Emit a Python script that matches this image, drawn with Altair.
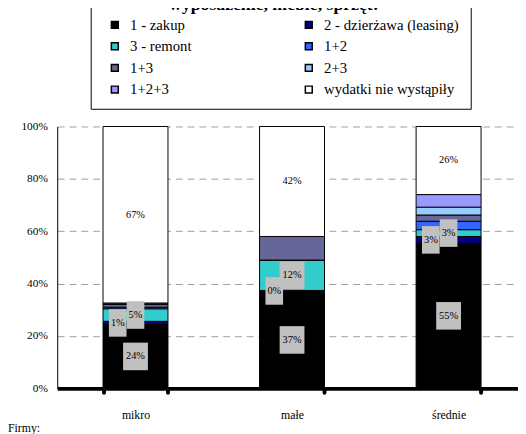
import altair as alt
import pandas as pd

# ---- data ----
categories = ["mikro", "małe", "średnie"]
series = ["1 - zakup", "2 - dzierżawa (leasing)", "3 - remont", "1+2", "1+3",
          "2+3", "1+2+3", "wydatki nie wystąpiły"]
colors = ["#000000", "#000080", "#33CCCC", "#3366FF", "#666699",
          "#99CCFF", "#9999FF", "#FFFFFF"]
zakup = [24.4, 37.0, 55.4]
dzierzawa = [1.2, 0.4, 2.6]
remont = [4.8, 11.6, 2.6]
s12 = [0.6, 0.0, 3.2]
s13 = [1.2, 9.0, 2.4]
s23 = [0.0, 0.0, 3.0]
s123 = [0.4, 0.0, 4.8]
brak = [67.4, 42.0, 26.0]
values = [zakup, dzierzawa, remont, s12, s13, s23, s123, brak]
y_ticks = [0, 20, 40, 60, 80, 100]
title_text = "wyposażenie, meble, sprzęt:"
footer_text = "Firmy:"

rows = []
for si, (name, vals) in enumerate(zip(series, values)):
    for ci, cat in enumerate(categories):
        rows.append(dict(firma=cat, seria=name, ord=si, val=vals[ci]))
df = pd.DataFrame(rows)
df["cat_i"] = df["firma"].map({c: i for i, c in enumerate(categories)})
df = df.sort_values(["cat_i", "ord"]).reset_index(drop=True)
df["y1"] = df.groupby("firma")["val"].cumsum()
df["y0"] = df["y1"] - df["val"]
df["mid"] = (df["y0"] + df["y1"]) / 2
df["lbl"] = df["val"].apply(lambda v: f"{int(round(v))}%")

W, H = 468, 266
FONT = "Liberation Serif"

xscale = alt.Scale(domain=categories, range=[0, 477], paddingInner=0.585, paddingOuter=0.2925)
yscale = alt.Scale(domain=[0, 100])

x_enc = alt.X("firma:N", scale=xscale, sort=categories,
              axis=alt.Axis(title=None, labelAngle=0, domainColor="black", domainWidth=4,
                            tickColor="black", tickWidth=4, tickSize=4, tickCap="round",
                            tickBand="extent", labelFont=FONT, labelFontSize=12,
                            labelColor="black", labelPadding=18, grid=False))
y_enc = alt.Y("y0:Q", scale=yscale,
              axis=alt.Axis(title=None, values=y_ticks, labelExpr="datum.value + '%'",
                            domainColor="black", domainWidth=1, ticks=False,
                            labelFont=FONT, labelFontSize=11.5, labelColor="black",
                            labelPadding=10, grid=True, gridColor="#A0A0A0",
                            gridDash=[7, 5], gridWidth=1))

bars = alt.Chart(df).mark_bar(stroke="black", strokeWidth=1).encode(
    x=x_enc,
    y=y_enc,
    y2="y1:Q",
    color=alt.Color("seria:N", scale=alt.Scale(domain=series, range=colors),
                    legend=alt.Legend(title=None, orient="none", legendX=34, legendY=-122,
                                      columns=2, direction="horizontal",
                                      strokeColor="black", padding=11,
                                      columnPadding=105, rowPadding=6,
                                      symbolType="square", symbolSize=49, symbolOffset=6,
                                      symbolStrokeColor="black", symbolStrokeWidth=1.5,
                                      labelFont=FONT, labelFontSize=15, labelColor="black",
                                      labelOffset=8, labelLimit=400)),
    order=alt.Order("ord:Q"),
)

WIDE = "M-0.9,-1L0.9,-1L0.9,1L-0.9,1Z"
NARROW = "M-0.64,-1L0.64,-1L0.64,1L-0.64,1Z"
WIDE_L = "M-2.19,-1L-0.39,-1L-0.39,1L-2.19,1Z"
NARROW_L = "M-1.93,-1L-0.65,-1L-0.65,1L-1.93,1Z"

base = alt.Chart(df).encode(
    x=alt.X("firma:N", scale=xscale, sort=categories),
    y=alt.Y("mid:Q", scale=yscale),
)

boxes_main = base.transform_filter(
    alt.FieldOneOfPredicate(field="seria", oneOf=[series[0], series[2]])
).mark_point(filled=True, color="#C0C0C0", opacity=1, size=784, strokeWidth=0).encode(
    shape=alt.condition("length(datum.lbl) > 2", alt.value(WIDE), alt.value(NARROW)),
    order=alt.Order("ord:Q"),
)
boxes_dz = base.transform_filter(
    alt.FieldEqualPredicate(field="seria", equal=series[1])
).mark_point(filled=True, color="#C0C0C0", opacity=1, size=784, strokeWidth=0).encode(
    shape=alt.condition("length(datum.lbl) > 2", alt.value(WIDE_L), alt.value(NARROW_L)),
)

text_dz = base.transform_filter(
    alt.FieldEqualPredicate(field="seria", equal=series[1])
).mark_text(font=FONT, fontSize=10.5, color="black", dx=-18).encode(text="lbl:N")

text_main = base.transform_filter(
    alt.FieldOneOfPredicate(field="seria", oneOf=[series[0], series[2], series[7]])
).mark_text(font=FONT, fontSize=10.5, color="black").encode(text="lbl:N")

title_df = pd.DataFrame({"t": [title_text]})
title_mark = alt.Chart(title_df).mark_text(
    font=FONT, fontSize=18, fontWeight="bold", color="black", baseline="alphabetic"
).encode(x=alt.value(220), y=alt.value(-118), text="t:N")

footer_df = pd.DataFrame({"t": [footer_text]})
footer_mark = alt.Chart(footer_df).mark_text(
    font=FONT, fontSize=12, color="black", align="left", baseline="middle"
).encode(x=alt.value(-50), y=alt.value(306), text="t:N")

chart = alt.layer(
    bars, boxes_dz, text_dz, boxes_main, text_main, title_mark, footer_mark
).properties(
    width=W, height=H,
    autosize="none",
    padding={"left": 50, "top": 117, "right": 0, "bottom": 43},
).configure(
    font=FONT
).configure_view(stroke=None)

chart.save("out.html", embed_options={"renderer": "svg", "actions": False})
